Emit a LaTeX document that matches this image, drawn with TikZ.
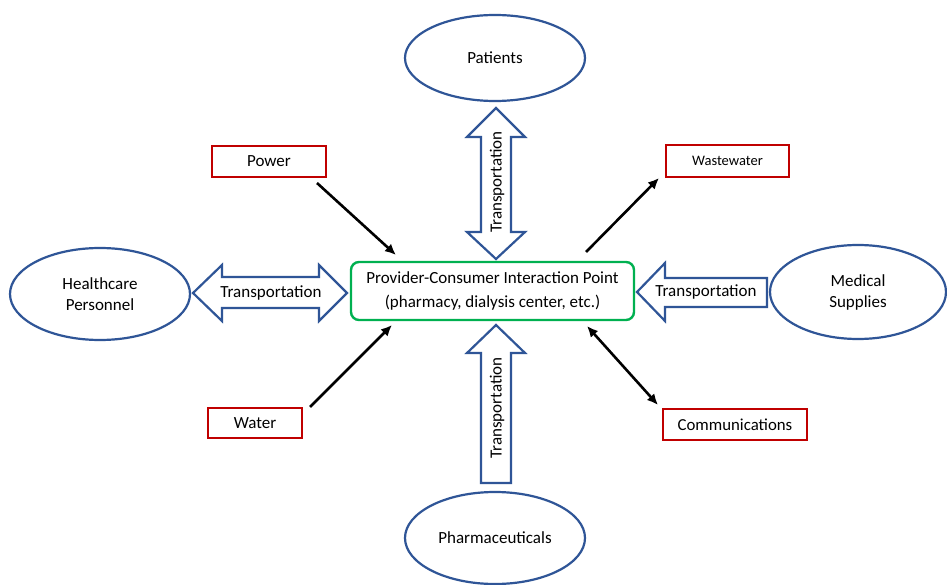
\documentclass[tikz,border=0pt]{standalone}
\usepackage{fontspec}
\setmainfont{Carlito}
\usetikzlibrary{arrows.meta,shapes.geometric}
\definecolor{eblue}{RGB}{47,85,151}
\definecolor{bred}{RGB}{192,0,0}
\definecolor{bgreen}{RGB}{0,176,80}
\begin{document}
\begin{tikzpicture}[x=1pt,y=-1pt,
  font=\fontsize{17}{21}\selectfont,
  ell/.style={ellipse,draw=eblue,line width=2.2pt,inner sep=0pt,align=center},
  rbox/.style={draw=bred,line width=2.4pt,inner sep=0pt},
  blk/.style={draw=eblue,line width=2.2pt,fill=white,line join=miter},
  conn/.style={line width=2.6pt,-{Latex[length=11pt,width=10pt]}},
  conn2/.style={line width=2.6pt,{Latex[length=11pt,width=10pt]}-{Latex[length=11pt,width=10pt]}}]
\clip (0,0) rectangle (947,585);
\fill[white] (0,0) rectangle (947,585);
% ellipses
\node[ell,minimum width=180pt,minimum height=86pt] (pat) at (495,58) {Patients};
\node[ell,minimum width=180pt,minimum height=92pt] (hcp) at (100,294) {Healthcare\\Personnel};
\node[ell,minimum width=176pt,minimum height=94pt] (med) at (858,292) {Medical\\Supplies};
\node[ell,minimum width=180pt,minimum height=92pt] (pha) at (495,538) {Pharmaceuticals};
% centre
\node[draw=bgreen,line width=2.4pt,rounded corners=8pt,minimum width=283pt,minimum height=58pt,align=center,
  font=\fontsize{17}{24}\selectfont] (cen) at (492.5,291) {Provider-Consumer Interaction Point\\(pharmacy, dialysis center, etc.)};
% red boxes
\node[rbox,minimum width=114pt,minimum height=31pt] (pow) at (269,161.5) {Power};
\node[rbox,minimum width=123pt,minimum height=32pt,font=\fontsize{14.5}{17}\selectfont] (ww) at (727.5,161) {Wastewater};
\node[rbox,minimum width=94pt,minimum height=30pt] (wat) at (255,423) {Water};
\node[rbox,minimum width=144pt,minimum height=31pt,font=\fontsize{16.8}{19}\selectfont] (com) at (735,424.5) {Communications};
% block arrows
\draw[blk] (496,108) -- (525,137) -- (511,137) -- (511,232) -- (525,232) -- (496,259) -- (467,232) -- (481,232) -- (481,137) -- (467,137) -- cycle;
\node[rotate=90] (t1) at (497,182) {Transportation};
\draw[blk] (496,325) -- (525,353) -- (511,353) -- (511,483) -- (481,483) -- (481,353) -- (467,353) -- cycle;
\node[rotate=90] (t2) at (497,408) {Transportation};
\draw[blk] (193,293) -- (222,265) -- (222,277) -- (319,277) -- (319,265) -- (347,293) -- (319,321) -- (319,308) -- (222,308) -- (222,321) -- cycle;
\node (t3) at (271,293) {Transportation};
\draw[blk] (637,292) -- (665,263) -- (665,278) -- (767,278) -- (767,307) -- (665,307) -- (665,321) -- cycle;
\node (t4) at (706,292) {Transportation};
% line arrows
\coordinate (powS) at (317,183);
\coordinate (powE) at (396,255);
\coordinate (wwS) at (586,252);
\coordinate (wwE) at (659,178);
\coordinate (watS) at (310,407);
\coordinate (watE) at (392,325);
\coordinate (comS) at (587,326);
\coordinate (comE) at (658,405);
\draw[conn] (powS) -- (powE);
\draw[conn] (wwS) -- (wwE);
\draw[conn] (watS) -- (watE);
\draw[conn2] (comS) -- (comE);
\end{tikzpicture}
\end{document}
